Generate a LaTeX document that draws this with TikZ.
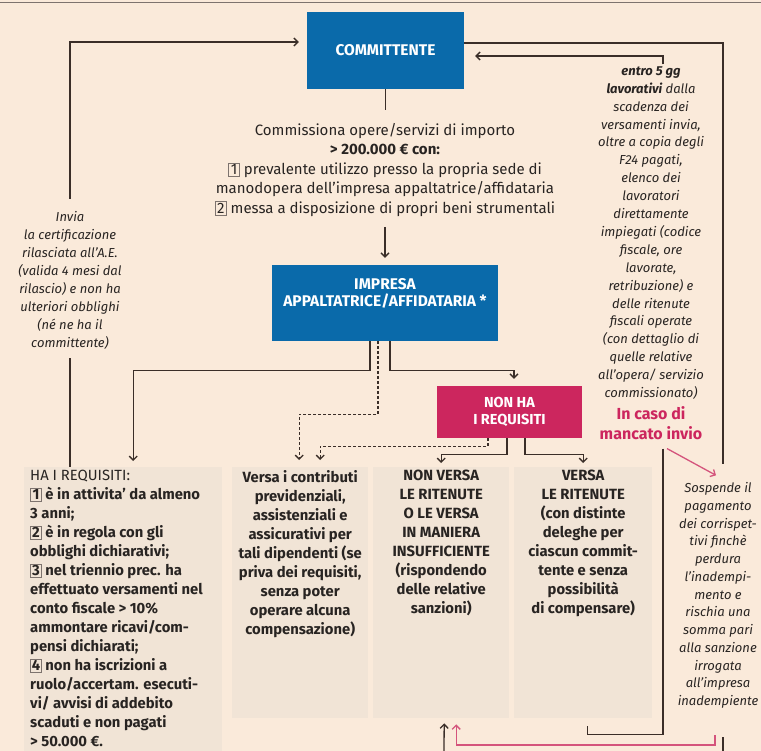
\documentclass[tikz,border=0pt]{standalone}
\usepackage{fontspec}
\setmainfont{Fira Sans}
\usetikzlibrary{arrows.meta,positioning}
\definecolor{bg}{RGB}{250,234,218}
\definecolor{boxfill}{RGB}{241,228,214}
\definecolor{myblue}{RGB}{10,106,170}
\definecolor{mymagenta}{RGB}{204,38,94}
\definecolor{mypink}{RGB}{212,84,124}
\definecolor{ink}{RGB}{40,36,34}
\definecolor{wirecol}{RGB}{58,46,40}
\definecolor{boxline}{RGB}{125,115,110}
\newcommand{\nbox}[1]{{\setlength{\fboxsep}{1.2pt}\setlength{\fboxrule}{0.6pt}\color{boxline}\fbox{\color{ink}\makebox[0.55em]{#1}}}}

\begin{document}
\begin{tikzpicture}[x=1pt,y=-1pt,
  wire/.style={draw=wirecol,line width=1.3pt},
  link/.style={wire,-{Straight Barb[length=4pt,width=8pt]}},
  dlink/.style={link,dash pattern=on 3pt off 2pt},
  pinklink/.style={draw=mypink,line width=1.3pt,-{Straight Barb[length=4pt,width=8pt]}},
  bluebox/.style={fill=myblue,text=white,font=\fontsize{15.5}{17}\selectfont\bfseries,align=center,inner sep=0pt},
  panel/.style={fill=boxfill,inner sep=0pt,minimum height=251pt,anchor=north west},
  body/.style={text=ink,font=\fontsize{15}{19.5}\selectfont,align=center,inner sep=0pt},
  note/.style={text=ink,font=\fontsize{13}{17.9}\selectfont\itshape,align=center,inner sep=0pt},
  paneltxt/.style={text=ink,font=\fontsize{14.8}{19}\selectfont\bfseries,align=center,inner sep=0pt,anchor=north}]
  \fill[bg] (0,0) rectangle (761,751);
  \useasboundingbox (0,0) rectangle (761,751);
  \draw[boxline,line width=0.8pt] (0,2) -- (761,2);

  \node[bluebox,minimum width=157pt,minimum height=77pt] (committente) at (385.5,50.5) {COMMITTENTE};
  \node[body] (commissiona) at (385,170) {Commissiona opere/servizi di importo\\
    \textbf{> 200.000 € con:}\\
    \nbox{1} prevalente utilizzo presso la propria sede di\\
    manodopera dell'impresa appaltatrice/affidataria\\
    \nbox{2} messa a disposizione di propri beni strumentali};
  \node[bluebox,minimum width=226pt,minimum height=76pt] (impresa) at (385,303) {IMPRESA\\APPALTATRICE/AFFIDATARIA *\\[5pt]};
  \node[bluebox,fill=mymagenta,minimum width=145pt,minimum height=52pt,font=\fontsize{14.5}{17}\selectfont\bfseries] (nonha) at (509.5,412) {NON HA\\I REQUISITI};

  \node[panel,minimum width=198pt,minimum height=284pt] (hareq) at (24,467) {};
  \node[panel,minimum width=136pt] (versac) at (232,467) {};
  \node[panel,minimum width=136pt] (nonversa) at (373,467) {};
  \node[panel,minimum width=138pt] (versa) at (514,467) {};

  \node[paneltxt,align=left,anchor=north west] (hatxt) at ([xshift=6pt,yshift=-3pt]hareq.north west) {\mdseries HA I REQUISITI:\\
    \nbox{1} è in attivita' da almeno\\
    3 anni;\\
    \nbox{2} è in regola con gli\\
    obblighi dichiarativi;\\
    \nbox{3} nel triennio prec. ha\\
    effettuato versamenti nel\\
    conto fiscale > 10\%\\
    ammontare ricavi/com-\\
    pensi dichiarati;\\
    \nbox{4} non ha iscrizioni a\\
    ruolo/accertam. esecuti-\\
    vi/ avvisi di addebito\\
    scaduti e non pagati\\
    > 50.000 €.};
  \node[paneltxt] (versactxt) at ([yshift=-3pt]versac.north) {Versa i contributi\\previdenziali,\\assistenziali e\\assicurativi per\\tali dipendenti (se\\priva dei requisiti,\\senza poter\\operare alcuna\\compensazione)};
  \node[paneltxt] (nonversatxt) at ([yshift=-3pt]nonversa.north) {NON VERSA\\LE RITENUTE\\O LE VERSA\\IN MANIERA\\INSUFFICIENTE\\(rispondendo\\delle relative\\sanzioni)};
  \node[paneltxt] (versatxt) at ([yshift=-3pt]versa.north) {VERSA\\LE RITENUTE\\(con distinte\\deleghe per\\ciascun commit-\\tente e senza\\possibilità\\di compensare)};

  \node[note,font=\fontsize{13}{18}\selectfont\itshape] (invia) at (70,280) {Invia\\la certificazione\\rilasciata all'A.E.\\(valida 4 mesi dal\\rilascio) e non ha\\ulteriori obblighi\\(né ne ha il\\committente)};
  \node[note] (entro) at (651,233) {\textbf{entro 5 gg}\\\textbf{lavorativi} dalla\\scadenza dei\\versamenti invia,\\oltre a copia degli\\F24 pagati,\\elenco dei\\lavoratori\\direttamente\\impiegati (codice\\fiscale, ore\\lavorate,\\retribuzione) e\\delle ritenute\\fiscali operate\\(con dettaglio di\\quelle relative\\all'opera/ servizio\\commissionato)};
  \node[note,text=mymagenta,font=\fontsize{16}{19.5}\selectfont\bfseries] (mancato) at (651,423) {In caso di\\mancato invio};
  \node[note,font=\fontsize{13}{17.75}\selectfont\itshape] (sospende) at (718,595.5) {Sospende il\\pagamento\\dei corrispet-\\tivi finchè\\perdura\\l'inadempi-\\mento e\\rischia una\\somma pari\\alla sanzione\\irrogata\\all'impresa\\inadempiente};

  \coordinate (pinkstart) at (715,735);
  \coordinate (edgeup) at (444,751);
  \coordinate (edgedown) at (723,737);

  \draw[wire] ([yshift=-9pt]invia.south) -- (invia.south |- hareq.north);
  \draw[link] ([yshift=12pt]invia.north) |- ([xshift=-8pt,yshift=8.5pt]committente.west);
  \draw[wire] ([yshift=7.5pt]committente.east) -| ([xshift=5pt,yshift=18pt]sospende.north);
  \draw[link] ([xshift=12pt,yshift=2pt]entro.north) |- ([xshift=11pt,yshift=-5.5pt]committente.east);

  \draw[wire] (committente.south) -- ++(0,21);
  \draw[link] ([yshift=-10pt]commissiona.south) -- ([yshift=7pt]impresa.north);

  \draw[link] ([xshift=-15pt]impresa.south) -- ++(0,29) -| ([xshift=10pt,yshift=6pt]hareq.north);
  \draw[dlink] ([xshift=-7pt]impresa.south) -- ++(0,73) -| ([xshift=-1pt,yshift=7pt]versac.north);
  \draw[link] ([xshift=5pt]impresa.south) -- ++(0,29) -| ([xshift=4.5pt,yshift=7pt]nonha.north);

  \draw[dlink] ([xshift=-21.5pt]nonha.south) -- ++(0,8) -| ([xshift=20pt,yshift=7pt]versac.north);
  \draw[link] ([xshift=-2.5pt]nonha.south) -- ++(0,16) -| ([yshift=4pt]nonversa.north);
  \draw[link] ([xshift=15.5pt]nonha.south) -- ++(0,16) -| ([yshift=4pt]versa.north);

  \draw[wire] ([xshift=12pt,yshift=-9pt]mancato.south) |- ([xshift=4pt,yshift=-16pt]versa.south) -- ([xshift=4pt,yshift=-8pt]versa.south);
  \draw[pinklink] ([xshift=16pt,yshift=-9pt]mancato.south) -- ([xshift=-2pt,yshift=7pt]sospende.north);

  \draw[link] (edgeup) -- ([xshift=3pt,yshift=-5pt]nonversa.south);
  \draw[pinklink] (pinkstart) -- ++(0,10) -| ([xshift=15pt,yshift=-6pt]nonversa.south);
  \draw[wire] (edgedown) -- ++(0,20);
\end{tikzpicture}
\end{document}
